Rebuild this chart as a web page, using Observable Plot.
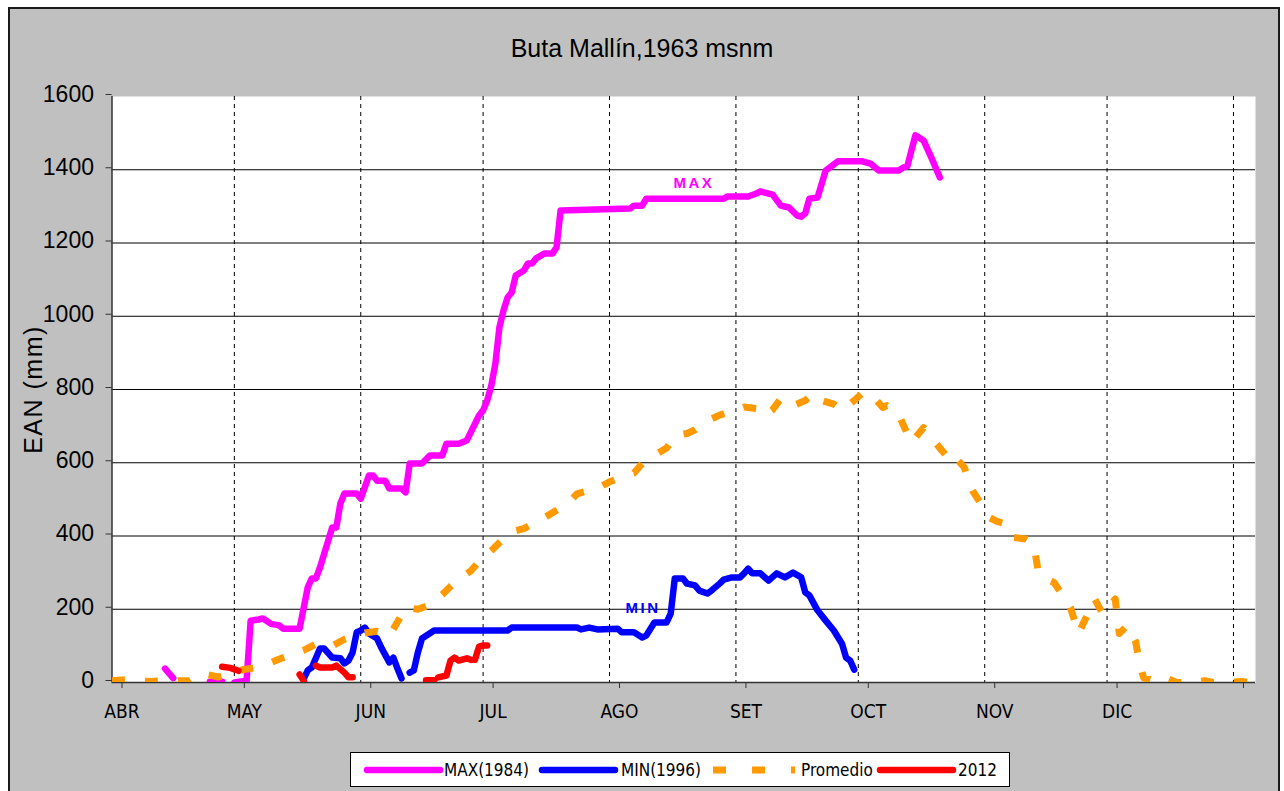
<!DOCTYPE html>
<html><head><meta charset="utf-8">
<script src="https://cdn.jsdelivr.net/npm/d3@7"></script>
<script src="https://cdn.jsdelivr.net/npm/@observablehq/plot@0.6"></script>
<style>
body{margin:0;background:#fff;width:1284px;height:791px;overflow:hidden;position:relative;font-family:"Liberation Sans",Arial,sans-serif;}
#area{position:absolute;left:8px;top:7px;width:1268px;height:800px;background:#c0c0c0;border:2px solid #1a1a1a;}
#plot{position:absolute;left:0;top:0;}
#title{position:absolute;left:0;top:34px;width:1284px;text-align:center;font-size:25px;line-height:28px;color:#000;}
#legend{position:absolute;left:350px;top:752px;width:658px;height:33px;background:#fff;border:1px solid #000;}
#legend .sw{position:absolute;top:11px;}
#legend .lb{position:absolute;top:7px;font-family:"Liberation Sans Narrow","Arial Narrow","DejaVu Sans Condensed",sans-serif;font-size:17px;line-height:20px;color:#000;white-space:nowrap;}
</style></head>
<body>
<div id="area"></div>
<div id="plot"></div>
<div id="title">Buta Mallín,1963 msnm</div>
<div id="legend"></div>
<script>
// ---- data (x = días desde el 1 de abril; null = sin dato) ----
const maxDia = [13,15,null,24,27,null,30,33,34,36,37,39,41,42,46,48,49,50,51,54,55,56,57,60,61,63,64,65,67,68,71,72,73,76,78,81,82,85,87,90,91,92,93,94,95,96,97,98,99,101,102,103,104,106,108,109,110,127,128,130,131,150,151,156,158,159,162,164,166,168,169,170,171,173,175,178,184,186,188,193,194,195,197,199,201,203];
const maxEAN = [38,12,null,2,2,null,0,5,169,172,175,160,156,147,147,260,284,284,314,423,423,489,516,516,502,565,565,551,551,530,530,519,598,598,620,620,652,652,661,729,743,770,810,870,970,1016,1051,1065,1111,1125,1144,1144,1158,1171,1171,1188,1289,1294,1302,1302,1321,1321,1327,1327,1335,1341,1332,1302,1297,1275,1272,1281,1321,1324,1398,1423,1423,1417,1398,1398,1406,1409,1494,1480,1431,1379];

const minDia = [47,48,49,51,52,54,56,57,58,59,60,61,62,63,65,66,68,69,70,71,null,73,74,75,76,79,97,98,114,115,117,119,124,125,128,130,131,133,136,137,138,140,141,143,144,146,147,149,150,152,154,155,156,157,159,161,163,165,167,169,170,171,173,175,177,179,180,181,182];
const minEAN = [10,33,41,93,93,68,66,52,60,82,137,142,150,134,120,96,55,68,38,11,null,27,33,82,120,142,142,150,150,145,150,145,147,137,137,123,128,164,164,188,284,284,270,265,251,243,251,270,281,287,287,298,311,298,298,278,298,287,300,287,246,238,197,169,142,106,68,60,35];

const promDia = [0,4,9,13,19,22,26,29,32,35,38,42,45,47,50,54,57,59,62,65,68,70,72,75,78,81,83,86,88,90,93,96,98,101,103,106,109,112,114,117,119,122,125,128,130,133,136,138,141,143,146,149,151,155,158,160,162,164,167,170,172,174,177,179,182,184,186,189,190,193,196,199,201,203,205,206,209,211,213,215,217,219,221,224,226,227,228,231,233,235,237,241,243,246,247,249,251,252,253,256,258,261,265,268,270,274,277,279];
const promEAN = [5,8,3,5,5,25,15,22,35,40,50,68,80,88,105,100,118,126,135,140,128,165,205,200,212,240,262,290,305,330,360,393,412,420,433,450,470,490,515,525,530,548,560,572,598,620,640,674,680,690,715,730,737,752,748,728,745,775,756,770,789,770,760,743,770,790,789,751,756,729,655,696,669,640,614,625,587,524,489,451,440,434,396,392,380,311,287,273,240,205,134,228,186,228,134,156,112,50,12,5,15,0,0,5,0,0,3,0];

const d2012Dia = [27,29,31,null,46,47,null,50,51,54,55,57,58,59,null,77,79,null,80,82,83,84,85,87,88,null,89,90,91,92];
const d2012EAN = [43,40,32,null,22,5,null,46,41,41,46,27,14,14,null,6,6,null,14,19,60,68,60,66,62,null,62,98,101,101];

const monthStartDia = [0,30,61,91,122,153,183,214,244,275];
const monthLabels = ["ABR","MAY","JUN","JUL","AGO","SET","OCT","NOV","DIC",""];
const xEndDia = 280.4;
const yTicks = [0,200,400,600,800,1000,1200,1400,1600];
const yGrid = [200,400,600,800,1000,1200,1400];

const notaTexto = ["MAX","MIN"];
const notaDia = [142.7,130.2];
const notaEAN = [1362,202];
const notaColor = ["#ff00ff","#0000ff"];

const seriesNames = ["MAX(1984)","MIN(1996)","Promedio","2012"];
const seriesColors = ["#ff00ff","#0000ff","#ff9900","#ff0000"];

// ---- helpers ----
const t0 = Date.UTC(2012,3,1);
const toDate = d => d == null ? new Date(NaN) : new Date(t0 + d*864e5);
const rows = (dias, vals) => dias.map((d,i) => ({fecha: toDate(d), ean: vals[i] == null ? NaN : vals[i]}));
const monthStarts = monthStartDia.map(toDate);
const labelOf = d => { const i = monthStarts.findIndex(m => +m === +d); return i < 0 ? "" : monthLabels[i]; };
const notas = notaTexto.map((t,i) => ({t, fecha: toDate(notaDia[i]), ean: notaEAN[i], c: notaColor[i]}));

const lineOpts = (c, w) => ({x:"fecha", y:"ean", stroke:c, strokeWidth:w, strokeLinecap:"round", strokeLinejoin:"round", clip:true});

const chart = Plot.plot({
  width: 1284, height: 740,
  marginLeft: 111.5, marginRight: 29, marginTop: 96, marginBottom: 58,
  style: {background:"transparent", fontFamily:"'Liberation Sans', Arial, sans-serif", color:"#000", overflow:"visible"},
  x: {type:"utc", domain:[toDate(0), toDate(xEndDia)], label:null},
  y: {domain:[0,1600], label:null},
  marks: [
    Plot.frame({fill:"#fff", stroke:null}),
    Plot.ruleY(yGrid, {stroke:"#000", strokeWidth:1}),
    Plot.ruleX(monthStarts.slice(1), {stroke:"#000", strokeWidth:1, strokeDasharray:"4,4"}),
    Plot.ruleY([yTicks[0]], {stroke:"#333", strokeWidth:1.5}),
    Plot.ruleX([monthStarts[0]], {stroke:"#333", strokeWidth:1.5}),
    Plot.axisY({ticks:yTicks, tickFormat:d => String(d), tickSize:6, tickPadding:12, fontSize:23, label:null, stroke:"#333", dy:-2}),
    Plot.axisX({ticks:monthStarts, tickFormat:labelOf, tickSize:6, tickPadding:16, fontSize:19, label:null, stroke:"#333", dx:10,
      fontFamily:"'Liberation Sans Narrow','Arial Narrow','DejaVu Sans Condensed',sans-serif"}),
    Plot.text(["EAN (mm)"], {frameAnchor:"left", textAnchor:"middle", rotate:-90, dx:-78, fontSize:25, fill:"#000"}),
    Plot.line(rows(maxDia, maxEAN), lineOpts("#ff00ff", 6.5)),
    Plot.line(rows(minDia, minEAN), lineOpts("#0000ff", 6.5)),
    Plot.line(rows(promDia, promEAN), {x:"fecha", y:"ean", stroke:"#ff9900", strokeWidth:7, strokeDasharray:"13,20", strokeLinecap:"butt", clip:true}),
    Plot.line(rows(d2012Dia, d2012EAN), lineOpts("#ff0000", 6.5)),
    Plot.text(notas, {x:"fecha", y:"ean", text:"t", fill:"c", fontSize:15, fontWeight:"bold"})
  ]
});
d3.select(chart).selectAll("text").filter(function(){ return notaTexto.includes(this.textContent); })
  .style("letter-spacing","2.5px");
d3.select(chart).selectAll("text").filter(function(){ return this.textContent === "EAN (mm)"; })
  .style("letter-spacing","1.5px");
document.getElementById("plot").appendChild(chart);

// ---- legend ----
const leg = document.getElementById("legend");
const swX = [12, 187, 362, 525];
const lbX = [93, 270, 450, 607];
seriesNames.forEach((name, i) => {
  const ns = "http://www.w3.org/2000/svg";
  const s = document.createElementNS(ns, "svg");
  s.setAttribute("width", 82); s.setAttribute("height", 12);
  s.setAttribute("class","sw"); s.style.left = swX[i] + "px";
  const l = document.createElementNS(ns, "line");
  l.setAttribute("y1", 6); l.setAttribute("y2", 6);
  l.setAttribute("stroke", seriesColors[i]);
  if (name === "Promedio") {
    l.setAttribute("x1", 0); l.setAttribute("x2", 83);
    l.setAttribute("stroke-width", 7); l.setAttribute("stroke-dasharray", "13,26");
  } else {
    l.setAttribute("x1", 4); l.setAttribute("x2", 77);
    l.setAttribute("stroke-width", 6.5); l.setAttribute("stroke-linecap", "round");
  }
  s.appendChild(l); leg.appendChild(s);
  const t = document.createElement("div");
  t.className = "lb"; t.style.left = lbX[i] + "px"; t.textContent = name;
  leg.appendChild(t);
});
</script>
</body></html>
